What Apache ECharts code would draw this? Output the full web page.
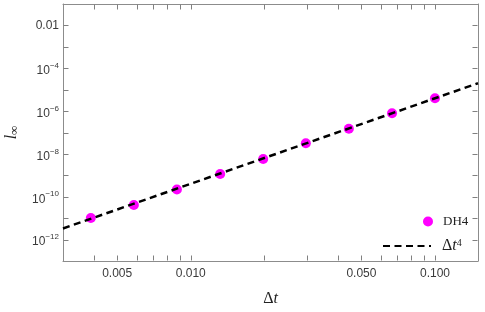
<!DOCTYPE html>
<html><head><meta charset="utf-8">
<script src="https://cdn.jsdelivr.net/npm/echarts@6/dist/echarts.min.js"></script>
<style>html,body{margin:0;padding:0;background:#fff}#c{width:485px;height:312px}</style>
</head><body><div id="c"></div>
<script>
// data
const dtValues  = [0.0039, 0.00585, 0.00878, 0.0132, 0.0198, 0.0296, 0.0444, 0.0667, 0.1];
const errValues = [1.02e-11, 4.1e-11, 2.2e-10, 1.15e-9, 5.8e-9, 3.16e-8, 1.5e-7, 7.9e-7, 4.0e-6];
const refDt  = [0.003, 0.15];
const refErr = [3.3e-12, 2.0e-5];
// ticks
const xLabelTicks = [0.005, 0.01, 0.05, 0.1];
const xAllTicks = [0.004, 0.005, 0.006, 0.007, 0.008, 0.009, 0.01, 0.02, 0.03, 0.04, 0.05, 0.06, 0.07, 0.08, 0.09, 0.1];
const yLabelTicks = [1e-12, 1e-10, 1e-8, 1e-6, 1e-4, 1e-2];
const yAllTicks = [1e-12, 1e-11, 1e-10, 1e-9, 1e-8, 1e-7, 1e-6, 1e-5, 1e-4, 1e-3, 1e-2];

const axisGray = '#8c8c8c';
const tickGray = '#808080';
const labelColor = '#3a3a3a';

function xFmt(v) { return Number(v).toFixed(3); }
function yFmt(v) {
  const e = Math.round(Math.log10(v));
  if (e === -2) return '0.01';
  return '{b|10}{s|\u2212' + (-e) + '}';
}

function makeX(extra) {
  return Object.assign({
    type: 'log', min: 0.003, max: 0.15, gridIndex: 0,
    axisLine: { show: true, lineStyle: { color: axisGray, width: 1 } },
    axisTick: { show: false },
    splitLine: { show: false }
  }, extra);
}
function makeY(extra) {
  return Object.assign({
    type: 'log', min: 1e-13, max: 1e-1, gridIndex: 0,
    axisLine: { show: true, lineStyle: { color: axisGray, width: 1 } },
    axisTick: { show: false },
    splitLine: { show: false }
  }, extra);
}

const option = {
  animation: false,
  backgroundColor: '#ffffff',
  grid: { left: 63, top: 4, right: 7, bottom: 51, containLabel: false, outerBoundsMode: 'none' },
  xAxis: [
    makeX({
      position: 'bottom',
      name: '{d|\u0394}{t|t}', nameLocation: 'middle', nameGap: 30,
      nameTextStyle: { rich: {
        d: { fontFamily: 'Liberation Serif', fontSize: 16, color: '#222' },
        t: { fontFamily: 'Liberation Serif', fontStyle: 'italic', fontSize: 16, color: '#222' }
      } },
      axisLabel: { show: true, margin: 7, customValues: xLabelTicks, formatter: xFmt,
        color: labelColor, fontFamily: 'Liberation Sans', fontSize: 12 }
    }),
    makeX({ position: 'top', axisLabel: { show: false } })
  ],
  yAxis: [
    makeY({
      position: 'left',
      name: '{l|l}{s|\u221E}', nameLocation: 'middle', nameGap: 42, nameRotate: 90,
      nameTextStyle: { rich: {
        l: { fontFamily: 'Liberation Serif', fontStyle: 'italic', fontSize: 16, color: '#222' },
        s: { fontFamily: 'Liberation Serif', fontSize: 13, color: '#222', padding: [6, 0, 0, 0] }
      } },
      axisLabel: { show: true, margin: 4, customValues: yLabelTicks, formatter: yFmt,
        color: labelColor, fontFamily: 'Liberation Sans', fontSize: 12,
        rich: {
          b: { fontFamily: 'Liberation Sans', fontSize: 12, color: labelColor, padding: [5, 0, 0, 0] },
          s: { fontFamily: 'Liberation Sans', fontSize: 8, color: labelColor, padding: [0, 0, 5, 0] }
        } }
    }),
    makeY({ position: 'right', axisLabel: { show: false } })
  ],
  legend: [
    { data: ['DH4'], left: 418, top: 210, orient: 'vertical', itemWidth: 10, itemHeight: 10,
      textStyle: { fontFamily: 'Liberation Serif', fontSize: 13, color: '#222', padding: [0, 0, 0, 5] } },
    { data: ['Dt4'], left: 377, top: 233, orient: 'vertical', itemWidth: 48, itemHeight: 10,
      itemStyle: { opacity: 0 },
      formatter: function () { return '{d|\u0394}{t|t}{s|4}'; },
      textStyle: { color: '#222', padding: [0, 0, 0, 6], rich: {
        d: { fontFamily: 'Liberation Serif', fontSize: 16, color: '#222' },
        t: { fontFamily: 'Liberation Serif', fontStyle: 'italic', fontSize: 16, color: '#222' },
        s: { fontFamily: 'Liberation Serif', fontSize: 10, color: '#222', verticalAlign: 'top' }
      } } }
  ],
  series: [
    { name: 'DH4', type: 'scatter', xAxisIndex: 0, yAxisIndex: 0, symbol: 'circle', symbolSize: 10,
      itemStyle: { color: '#ff00ff', opacity: 1 }, z: 2,
      data: dtValues.map((d, i) => [d, errValues[i]]) },
    { name: 'Dt4', type: 'line', xAxisIndex: 0, yAxisIndex: 0, showSymbol: false, symbol: 'none',
      lineStyle: { color: '#000', width: 2.5, type: [7, 4.5] }, itemStyle: { color: '#000' }, z: 3,
      data: refDt.map((d, i) => [d, refErr[i]]) }
  ]
};
const chart = echarts.init(document.getElementById('c'), null, { renderer: 'canvas' });
chart.setOption(option);

// frame ticks (inward, on all four sides), placed through the axes' own scales
const rect = chart.getModel().getComponent('grid', 0).coordinateSystem.getRect();
const L = Math.round(rect.x) + 0.5, R = Math.round(rect.x + rect.width) - 0.5;
const Tp = Math.round(rect.y) + 0.5, B = Math.round(rect.y + rect.height) - 0.5;
const TL = 5;
const tickEls = [];
const ls = { stroke: tickGray, lineWidth: 1 };
xAllTicks.forEach(v => {
  const px = Math.round(chart.convertToPixel({ xAxisIndex: 0 }, v)) + 0.5;
  tickEls.push({ type: 'line', silent: true, z: 1, shape: { x1: px, y1: B, x2: px, y2: B - TL }, style: ls });
  tickEls.push({ type: 'line', silent: true, z: 1, shape: { x1: px, y1: Tp, x2: px, y2: Tp + TL }, style: ls });
});
yAllTicks.forEach(v => {
  const py = Math.round(chart.convertToPixel({ yAxisIndex: 0 }, v)) + 0.5;
  tickEls.push({ type: 'line', silent: true, z: 1, shape: { x1: L, y1: py, x2: L + TL, y2: py }, style: ls });
  tickEls.push({ type: 'line', silent: true, z: 1, shape: { x1: R, y1: py, x2: R - TL, y2: py }, style: ls });
});
chart.setOption({ graphic: { elements: tickEls } });
</script></body></html>
